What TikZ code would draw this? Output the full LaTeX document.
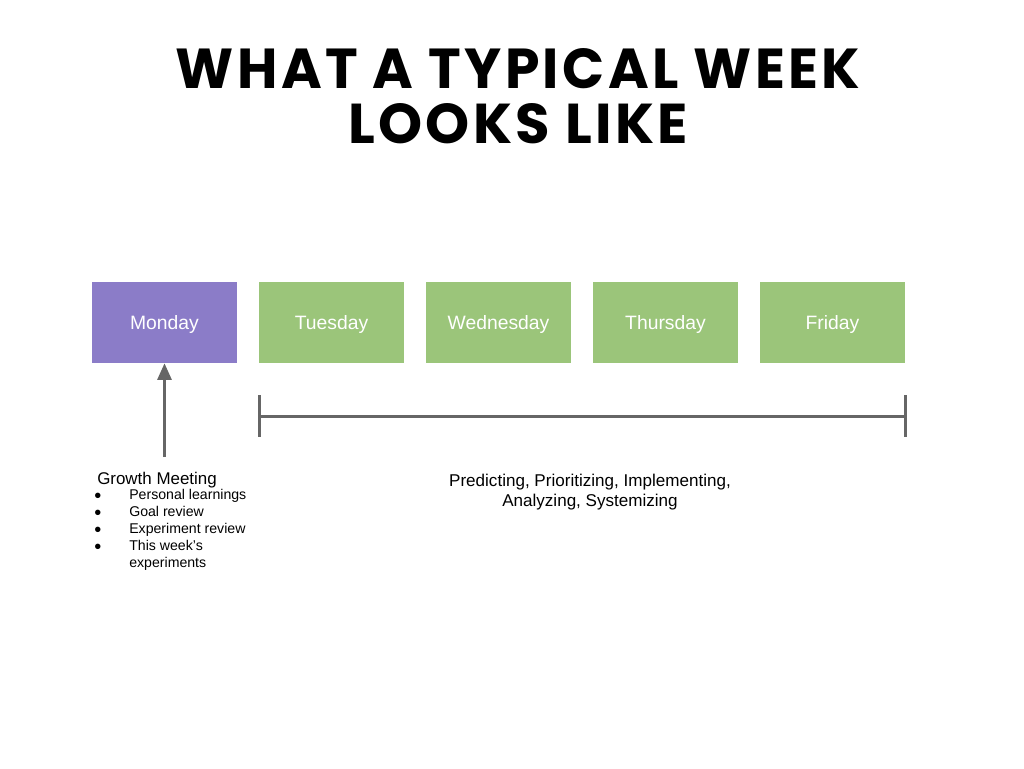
\documentclass[tikz,border=0pt]{standalone}
\usepackage{fontspec}
\usepackage{graphicx}
\setmainfont{Liberation Sans}
\newfontfamily\titlefont{Poppins}[UprightFont=* Bold,LetterSpace=6]
\usetikzlibrary{arrows.meta}
\definecolor{mon}{HTML}{8B7CC8}
\definecolor{day}{HTML}{9BC57A}
\definecolor{ln}{HTML}{666666}
\begin{document}
\begin{tikzpicture}[x=0.75pt,y=-0.75pt,
  daybox/.style={draw=none,fill=day,minimum width=108.75pt,minimum height=60.75pt,inner sep=0,text=white,text height=10.4pt,text depth=0pt,font=\fontsize{14.5}{16}\selectfont},
  conn/.style={draw=ln,line width=2.25pt},
  ttl/.style={inner sep=0,anchor=base,font=\titlefont\fontsize{36}{40}\selectfont},
  small/.style={font=\fontsize{10.6}{12}\selectfont,inner sep=0,anchor=base west},
  dot/.style={font=\fontsize{15}{12}\selectfont,inner sep=0,anchor=base west,text height=6pt,text depth=0pt}]
\useasboundingbox (0,0) rectangle (1024,768);
\node[ttl] (title1) at (518,88) {\resizebox{513pt}{30pt}{WHAT A TYPICAL WEEK}};
\node[ttl] (title2) at (518,143) {\resizebox{255pt}{30pt}{LOOKS LIKE}};
\node[daybox,fill=mon] (mon) at (164.5,322.5) {Monday};
\node[daybox] (tue) at (331.5,322.5) {Tuesday};
\node[daybox] (wed) at (498.5,322.5) {Wednesday};
\node[daybox] (thu) at (665.5,322.5) {Thursday};
\node[daybox] (fri) at (832.5,322.5) {Friday};
\coordinate (astart) at (164.5,457);
\draw[conn,-{Triangle[length=12.5pt,width=10.5pt]}] (astart) -- (mon.south);
\coordinate (bl) at (259,416);
\coordinate (br) at (905,416);
\coordinate (blt) at (259,395);
\coordinate (blb) at (259,437);
\coordinate (brt) at (905,395);
\coordinate (brb) at (905,437);
\draw[conn] (bl) -- (br);
\draw[conn] (blt) -- (blb);
\draw[conn] (brt) -- (brb);
\node[font=\fontsize{12.7}{15}\selectfont,inner sep=0,anchor=base west] (gm) at (97,484) {Growth Meeting};
\node[dot] (b1) at (94,502) {•};
\node[small] (i1) at (129,499) {Personal learnings};
\node[dot] (b2) at (94,519) {•};
\node[small] (i2) at (129,516) {Goal review};
\node[dot] (b3) at (94,536) {•};
\node[small] (i3) at (129,533) {Experiment review};
\node[dot] (b4) at (94,553) {•};
\node[small] (i4) at (129,550) {This week's};
\node[small] (i5) at (129,567) {experiments};
\node[font=\fontsize{12.8}{15}\selectfont,align=center,inner sep=0,anchor=base] (pred) at (590,506) {Predicting, Prioritizing, Implementing,\\Analyzing, Systemizing};
\end{tikzpicture}
\end{document}
